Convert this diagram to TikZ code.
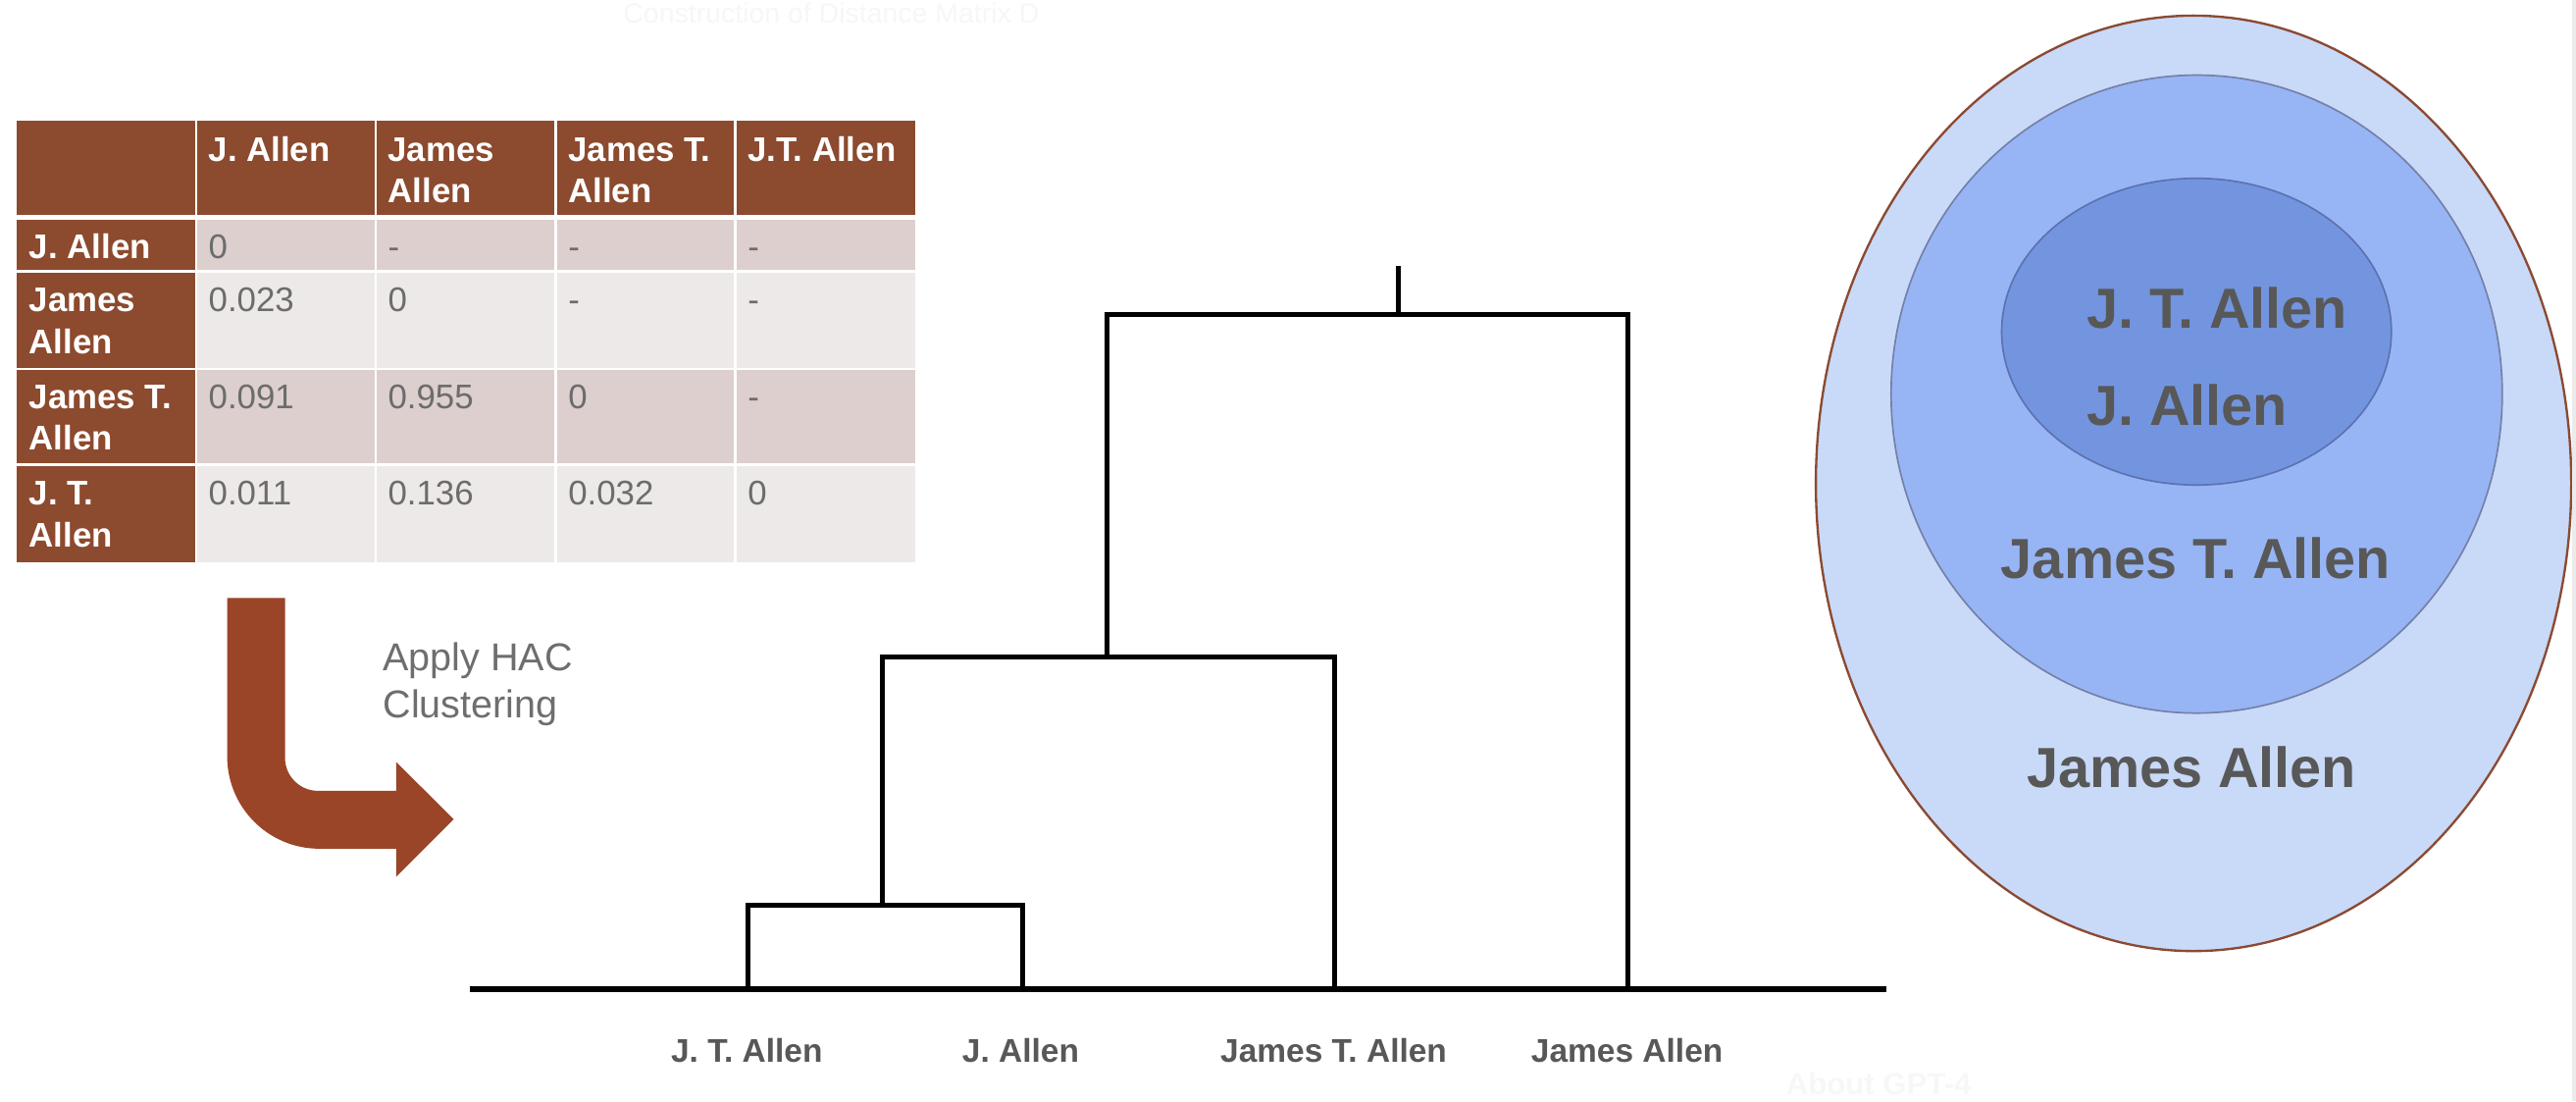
\documentclass[tikz,border=0pt]{standalone}
\usepackage{fontspec}
\setmainfont{Liberation Sans}
\definecolor{rust}{HTML}{8C4A2E}
\definecolor{arrowc}{HTML}{9A4527}
\definecolor{rowa}{HTML}{DCCFCE}
\definecolor{rowb}{HTML}{EDE9E8}
\definecolor{cellgray}{HTML}{6C6C6C}
\definecolor{labgray}{HTML}{585858}
\definecolor{hacgray}{HTML}{6E6E6E}
\definecolor{ellA}{HTML}{C9D9F8}
\definecolor{ellB}{HTML}{97B5F4}
\definecolor{ellC}{HTML}{7395E0}
\definecolor{ellbA}{HTML}{8B4A32}
\definecolor{ellbB}{HTML}{7580A8}
\definecolor{ellbC}{HTML}{5C72B0}
\begin{document}
\begin{tikzpicture}[x=0.5pt,y=-0.5pt,
  hd/.style={anchor=base west,inner sep=0pt,text=white,font=\fontsize{10.4}{12}\selectfont\bfseries},
  bd/.style={anchor=base west,inner sep=0pt,text=cellgray,font=\fontsize{10.4}{12}\selectfont},
  grid/.style={white,line width=0.8pt},
  dline/.style={line width=1.5pt,line join=miter,line cap=rect,black},
  leaf/.style={anchor=base,inner sep=0pt,text=labgray,font=\fontsize{10}{12}\selectfont\bfseries},
  elab/.style={inner sep=0pt,text=labgray,font=\fontsize{17.2}{20}\selectfont\bfseries},
  hac/.style={anchor=base west,inner sep=0pt,text=hacgray,font=\fontsize{11.8}{14}\selectfont},
  faint/.style={anchor=base west,inner sep=0pt,text=black!3},
]
\useasboundingbox (0,0) rectangle (1568,670);
\fill[white] (0,0) rectangle (1568,670);

% faint background texts
\node[faint,font=\fontsize{8.5}{10}\selectfont] (ttl) at (379,14) {Construction of Distance Matrix D};
\node[faint,font=\fontsize{9.3}{11}\selectfont\bfseries] (gpt) at (1086.8,666) {About GPT-4};

% ---------- table ----------
\fill[rust] (10,73.5) rectangle (557,131.5);
\fill[rowa] (10,132.5) rectangle (557,165.2);
\fill[rowb] (10,165.2) rectangle (557,224.6);
\fill[rowa] (10,224.6) rectangle (557,282.9);
\fill[rowb] (10,282.9) rectangle (557,342.3);
\fill[rust] (10,132.5) rectangle (119.5,342.3);
\draw[white,line width=1.3pt] (10,132.3) -- (557,132.3);
\foreach \yy in {165.2,224.6,282.9}
  \draw[grid] (10,\yy) -- (557,\yy);
\foreach \xx in {119.5,228.7,338.4,447.7}
  \draw[grid] (\xx,73.5) -- (\xx,342.3);

\foreach \x/\y/\t [count=\i] in {
  126.6/98/{J. Allen}, 235.8/98/{James}, 235.8/123.4/{Allen},
  345.5/98/{James T.}, 345.5/123.4/{Allen}, 454.8/98/{J.T. Allen},
  17.4/157.2/{J. Allen}, 17.4/189.5/{James}, 17.4/215/{Allen},
  17.4/248.5/{James T.}, 17.4/274/{Allen}, 17.4/307.5/{J. T.}, 17.4/333/{Allen}}
  \node[hd] (h\i) at (\x,\y) {\t};

\foreach \x/\y/\t [count=\i] in {
  126.6/157.2/{0}, 235.8/157.2/{-}, 345.5/157.2/{-}, 454.8/157.2/{-},
  126.6/189.5/{0.023}, 235.8/189.5/{0}, 345.5/189.5/{-}, 454.8/189.5/{-},
  126.6/248.5/{0.091}, 235.8/248.5/{0.955}, 345.5/248.5/{0}, 454.8/248.5/{-},
  126.6/307.5/{0.011}, 235.8/307.5/{0.136}, 345.5/307.5/{0.032}, 454.8/307.5/{0}}
  \node[bd] (b\i) at (\x,\y) {\t};

% ---------- bent arrow ----------
\fill[arrowc] (138.3,363.8) -- (173.5,363.8) -- (173.5,461.2)
  .. controls (173.5,472.2) and (182.5,481.2) .. (193.5,481.2)
  -- (241.2,481.2) -- (241.2,463.7) -- (276.2,498.5) -- (241.2,533.4)
  -- (241.2,516.4) -- (194.3,516.4)
  .. controls (163.4,516.4) and (138.3,491.3) .. (138.3,460.4) -- cycle;
\node[hac] (hac1) at (232.8,408) {Apply HAC};
\node[hac] (hac2) at (232.8,436.8) {Clustering};

% ---------- dendrogram ----------
\coordinate (bl) at (286,601.8);
\coordinate (br) at (1148,601.8);
\coordinate (L1) at (455.5,601.8);
\coordinate (L2) at (622.7,601.8);
\coordinate (L3) at (812.3,601.8);
\coordinate (L4) at (991,601.8);
\coordinate (A1) at (455.5,550.8);
\coordinate (A2) at (622.7,550.8);
\coordinate (A0) at (537,550.8);
\coordinate (B1) at (537,399.9);
\coordinate (B2) at (812.3,399.9);
\coordinate (B0) at (674.1,399.9);
\coordinate (C1) at (674.1,191.6);
\coordinate (C2) at (991,191.6);
\coordinate (C0) at (851.1,191.6);
\coordinate (T) at (851.1,161.9);
\draw[dline] (L1) -- (A1) -- (A2) -- (L2);
\draw[dline] (A0) -- (B1) -- (B2) -- (L3);
\draw[dline] (B0) -- (C1) -- (C2) -- (L4);
\draw[dline,line cap=butt] (C0) -- (T);
\draw[dline,line width=1.8pt,line cap=butt] (bl) -- (br);

\node[leaf] (n1) at (454.6,646.3) {J. T. Allen};
\node[leaf] (n2) at (621.3,646.3) {J. Allen};
\node[leaf] (n3) at (811.8,646.3) {James T. Allen};
\node[leaf] (n4) at (990.4,646.3) {James Allen};

% ---------- nested ellipses ----------
\draw[ellbA,line width=0.7pt,fill=ellA] (1335.2,294.1) ellipse [x radius=229.9,y radius=284.6];
\draw[ellbB,line width=0.5pt,fill=ellB] (1337.1,239.8) ellipse [x radius=186,y radius=194.1];
\draw[ellbC,line width=0.5pt,fill=ellC] (1337,201.8) ellipse [x radius=118.6,y radius=93.3];
\fill[black!8] (1565.6,0) rectangle (1568,670);

\node[elab,anchor=base west] (e1) at (1269.8,199.9) {J. T. Allen};
\node[elab,anchor=base west] (e2) at (1269.8,258.9) {J. Allen};
\node[elab,anchor=base] (e3) at (1336.6,352.2) {James T. Allen};
\node[elab,anchor=base] (e4) at (1334,478.9) {James Allen};
\end{tikzpicture}
\end{document}
